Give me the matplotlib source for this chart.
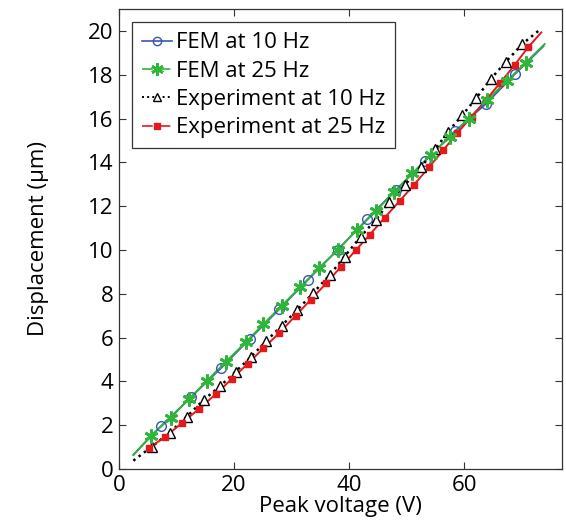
import matplotlib
matplotlib.use("Agg")
import matplotlib.pyplot as plt
from matplotlib.lines import Line2D

plt.rcParams['font.family'] = ['Open Sans', 'DejaVu Sans']

# FEM at 10 Hz (markers)
fem10_x = [7.3, 12.5, 17.8, 22.8, 27.9, 32.9, 38.0, 43.1, 48.1, 53.2, 58.4, 63.8, 68.8]
fem10_y = [1.96, 3.27, 4.62, 5.95, 7.30, 8.65, 10.0, 11.4, 12.74, 14.06, 15.43, 16.67, 18.02]
fem10_start = (2.5, 0.64)
fem10_end = (73.8, 19.3)

# FEM at 25 Hz
fem25_x = [5.5, 9.0, 12.2, 15.3, 18.6, 22.0, 25.1, 28.3, 31.5, 34.7, 38.0, 41.3, 44.6,
           47.8, 51.0, 54.2, 57.5, 60.8, 64.0, 67.4, 70.7]
fem25_y = [1.51, 2.34, 3.20, 4.03, 4.90, 5.78, 6.61, 7.46, 8.30, 9.16, 10.0, 10.9, 11.76,
           12.64, 13.5, 14.34, 15.15, 15.98, 16.86, 17.7, 18.55]
fem25_start = (2.5, 0.64)
fem25_end = (74.0, 19.4)

# Experiment at 10 Hz
exp10_x = [5.7, 8.8, 11.8, 14.7, 17.6, 20.3, 23.0, 25.6, 28.3, 31.0, 33.8, 36.6, 39.2,
           42.0, 44.6, 47.0, 49.7, 52.5, 55.0, 57.2, 59.7, 62.1, 64.6, 67.3, 70.1]
exp10_y = [1.02, 1.66, 2.39, 3.15, 3.79, 4.45, 5.13, 5.84, 6.55, 7.26, 8.05, 8.85, 9.70,
           10.6, 11.37, 12.18, 12.98, 13.78, 14.6, 15.4, 16.16, 16.93, 17.8, 18.6, 19.4]
exp10_start = (2.5, 0.38)
exp10_end = (72.9, 20.0)

# Experiment at 25 Hz
exp25_x = [5.2, 8.0, 10.9, 13.9, 16.8, 19.6, 22.4, 25.1, 27.9, 30.7, 33.3, 36.0, 38.6,
           41.2, 43.6, 46.2, 48.8, 51.3, 53.9, 56.4, 58.8, 61.3, 63.8, 66.3, 68.8, 71.1]
exp25_y = [0.95, 1.46, 2.09, 2.74, 3.41, 4.11, 4.81, 5.51, 6.22, 7.00, 7.72, 8.47, 9.24,
           10.0, 10.7, 11.48, 12.24, 12.98, 13.78, 14.57, 15.33, 16.09, 16.85, 17.64, 18.45, 19.25]
exp25_start = (5.0, 0.92)
exp25_end = (73.4, 19.93)

labels = ["FEM at 10 Hz", "FEM at 25 Hz", "Experiment at 10 Hz", "Experiment at 25 Hz"]
x_ticks = [0, 20, 40, 60]
y_ticks = [0, 2, 4, 6, 8, 10, 12, 14, 16, 18, 20]

c_blue = "#3a55b4"
c_green = "#2fb53a"
c_black = "#000000"
c_red = "#e3191c"

FS = 16

fig = plt.figure(figsize=(5.66, 5.26), dpi=100)
ax = fig.add_axes([0.2102, 0.1084, 0.9929 - 0.2102, 0.9829 - 0.1084])

def line_of(start, xs, ys, end):
    return [start[0]] + xs + [end[0]], [start[1]] + ys + [end[1]]

lx, ly = line_of(fem10_start, fem10_x, fem10_y, fem10_end)
ax.plot(lx, ly, '-', color=c_blue, lw=1.2, zorder=2)
lx, ly = line_of(fem25_start, fem25_x, fem25_y, fem25_end)
ax.plot(lx, ly, '-', color=c_green, lw=1.4, zorder=2)
lx, ly = line_of(exp10_start, exp10_x, exp10_y, exp10_end)
ax.plot(lx, ly, ':', color=c_black, lw=1.8, zorder=2)
lx, ly = line_of(exp25_start, exp25_x, exp25_y, exp25_end)
ax.plot(lx, ly, '-', color=c_red, lw=1.4, zorder=2)

ax.plot(fem10_x, fem10_y, 'o', ls='none', mfc='none', mec=c_blue, ms=7, mew=1.0, zorder=3)
ax.plot(fem25_x, fem25_y, marker=(6, 2, 0), ls='none', mec=c_green, ms=10, mew=2.0, zorder=4)
ax.plot(exp10_x, exp10_y, '^', ls='none', mfc='white', mec=c_black, ms=7.5, mew=1.0, zorder=3)
ax.plot(exp25_x, exp25_y, 's', ls='none', mfc=c_red, mec=c_red, ms=5, zorder=3)

ax.set_xlim(0, 77)
ax.set_ylim(0, 21)
ax.set_xticks(x_ticks)
ax.set_yticks(y_ticks)
ax.tick_params(direction='in', top=True, right=True, length=5, width=0.8,
               labelsize=FS, pad=4, color='#333333')
for s in ax.spines.values():
    s.set_linewidth(0.9)
    s.set_color('#333333')

ax.set_xlabel("Peak voltage (V)", fontsize=FS, labelpad=0)
ax.set_ylabel("Displacement (\u03bcm)", fontsize=FS, labelpad=28)

handles = [
    Line2D([], [], color=c_blue, ls='-', lw=1.2, marker='o', mfc='none', mec=c_blue, ms=6),
    Line2D([], [], color=c_green, ls='-.', lw=1.2, marker=(6, 2, 0), mec=c_green, ms=9, mew=2.0),
    Line2D([], [], color=c_black, ls=':', lw=1.4, marker='^', mfc='white', mec=c_black, ms=6),
    Line2D([], [], color=c_red, ls='-.', lw=1.2, marker='s', mfc=c_red, mec=c_red, ms=5),
]
leg = ax.legend(handles, labels, loc='upper left', fontsize=FS, frameon=True,
                fancybox=False, edgecolor='#333333', framealpha=1,
                handlelength=1.35, handletextpad=0.15, labelspacing=0.33,
                borderpad=0.45, borderaxespad=0.6)
leg.get_frame().set_linewidth(0.9)

fig.savefig("out.png", dpi=100)
